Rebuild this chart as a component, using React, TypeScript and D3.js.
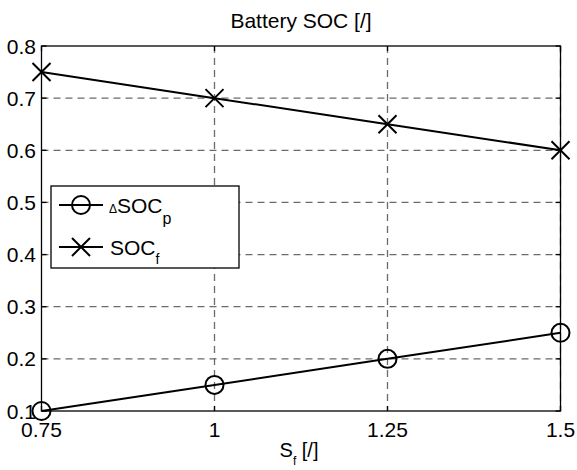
import React from "react";
import * as d3 from "d3";

const xValues = [0.75, 1, 1.25, 1.5];
const deltaSocP = [0.1, 0.15, 0.2, 0.25];
const socF = [0.75, 0.7, 0.65, 0.6];
const xTicks = [0.75, 1, 1.25, 1.5];
const xTickLabels = ["0.75", "1", "1.25", "1.5"];
const yTicks = [0.1, 0.2, 0.3, 0.4, 0.5, 0.6, 0.7, 0.8];
const yTickLabels = ["0.1", "0.2", "0.3", "0.4", "0.5", "0.6", "0.7", "0.8"];

const W = 577;
const H = 470;
const L = 41.5, R = 560.5, T = 46, B = 411;
const FONT = "'Liberation Sans', Arial, Helvetica, sans-serif";

export default function App() {
  const x = d3.scaleLinear().domain([0.75, 1.5]).range([L, R]);
  const y = d3.scaleLinear().domain([0.1, 0.8]).range([B, T]);
  const line = d3
    .line<number>()
    .x((_, i) => x(xValues[i]))
    .y((d) => y(d));

  const gridColor = "#6b6b6b";
  const fs = 21;

  const legX = 51, legY = 186, legW = 188, legH = 82;
  const row1 = 205, row2 = 247;
  const lx1 = 59, lx2 = 103, lmid = 81;

  const cross = (cx: number, cy: number, s: number, key: string) => (
    <path
      key={key}
      d={`M${cx - s},${cy - s}L${cx + s},${cy + s}M${cx - s},${cy + s}L${cx + s},${cy - s}`}
      stroke="#000"
      strokeWidth={2}
      fill="none"
    />
  );

  return (
    <svg
      width={W}
      height={H}
      style={{ position: "absolute", left: 0, top: 0, background: "#fff" }}
      fontFamily={FONT}
    >
      <rect x={0} y={0} width={W} height={H} fill="#fff" />
      <rect x={L} y={T} width={R - L} height={B - T} fill="#fff" />
      {xTicks.slice(1).map((t, i) => (
        <line
          key={"gx" + i}
          x1={x(t)}
          x2={x(t)}
          y1={T}
          y2={B}
          stroke={gridColor}
          strokeWidth={1.3}
          strokeDasharray="7,5"
        />
      ))}
      {yTicks.slice(1, -1).map((t, i) => (
        <line
          key={"gy" + i}
          x1={L}
          x2={R}
          y1={y(t)}
          y2={y(t)}
          stroke={gridColor}
          strokeWidth={1.3}
          strokeDasharray="7,5"
        />
      ))}
      <rect x={L} y={T} width={R - L} height={B - T} fill="none" stroke="#000" strokeWidth={1.3} />
      {xTicks.map((t, i) => (
        <g key={"xt" + i}>
          <line x1={x(t)} x2={x(t)} y1={B} y2={B - 5} stroke="#000" strokeWidth={1.3} />
          <line x1={x(t)} x2={x(t)} y1={T} y2={T + 5} stroke="#000" strokeWidth={1.3} />
        </g>
      ))}
      {yTicks.map((t, i) => (
        <g key={"yt" + i}>
          <line x1={L} x2={L + 5} y1={y(t)} y2={y(t)} stroke="#000" strokeWidth={1.3} />
          <line x1={R} x2={R - 5} y1={y(t)} y2={y(t)} stroke="#000" strokeWidth={1.3} />
        </g>
      ))}
      <path d={line(deltaSocP) || ""} fill="none" stroke="#000" strokeWidth={2} />
      <path d={line(socF) || ""} fill="none" stroke="#000" strokeWidth={2} />
      {deltaSocP.map((v, i) => (
        <circle key={"c" + i} cx={x(xValues[i])} cy={y(v)} r={9} fill="none" stroke="#000" strokeWidth={2} />
      ))}
      {socF.map((v, i) => cross(x(xValues[i]), y(v), 9, "x" + i))}
      {xTicks.map((t, i) => (
        <text key={"xl" + i} x={x(t)} y={436.5} fontSize={fs} textAnchor="middle" fill="#000">
          {xTickLabels[i]}
        </text>
      ))}
      {yTicks.map((t, i) => (
        <text key={"yl" + i} x={36} y={y(t) + 7.5} fontSize={fs} textAnchor="end" fill="#000">
          {yTickLabels[i]}
        </text>
      ))}
      <text x={(L + R) / 2} y={28} fontSize={fs} textAnchor="middle" fill="#000">
        Battery SOC [/]
      </text>
      <text x={299} y={457} fontSize={20} textAnchor="middle" fill="#000">
        S<tspan fontSize={12} dy={8}>f</tspan>
        <tspan dy={-8}> [/]</tspan>
      </text>
      <rect x={legX} y={legY} width={legW} height={legH} fill="#fff" stroke="#000" strokeWidth={1.3} />
      <line x1={lx1} x2={lx2} y1={row1} y2={row1} stroke="#000" strokeWidth={2} />
      <circle cx={lmid} cy={row1} r={9} fill="none" stroke="#000" strokeWidth={2} />
      <line x1={lx1} x2={lx2} y1={row2} y2={row2} stroke="#000" strokeWidth={2} />
      {cross(lmid, row2, 9, "legx")}
      <text x={109} y={row1 + 7.5} fontSize={fs} fill="#000">
        <tspan fontSize={12}>Δ</tspan>SOC<tspan fontSize={16} dy={11}>p</tspan>
      </text>
      <text x={110} y={row2 + 7.5} fontSize={fs} fill="#000">
        SOC<tspan fontSize={14} dy={9}>f</tspan>
      </text>
    </svg>
  );
}
